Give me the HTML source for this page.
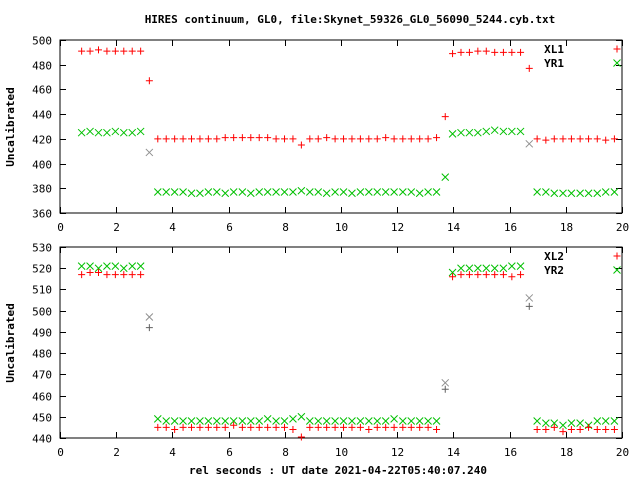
<!DOCTYPE html>
<html><head><meta charset="utf-8"><style>
body{margin:0;background:#fff}
svg{display:block;font-family:"DejaVu Sans Mono","Liberation Mono",monospace;font-size:11px}
</style></head><body>
<svg id="c" width="640" height="480" viewBox="0 0 640 480" xmlns="http://www.w3.org/2000/svg">
<rect width="640" height="480" fill="#fff"/>
<text x="350" y="23" text-anchor="middle" font-weight="bold">HIRES continuum, GL0, file:Skynet_59326_GL0_56090_5244.cyb.txt</text>
<text transform="translate(14,127) rotate(-90)" text-anchor="middle" font-weight="bold">Uncalibrated</text>
<text transform="translate(14,343) rotate(-90)" text-anchor="middle" font-weight="bold">Uncalibrated</text>
<text x="338" y="474" text-anchor="middle" font-weight="bold">rel seconds : UT date 2021-04-22T05:40:07.240</text>
<g id="g"></g>
</svg>
<script>
const times=[0.77,1.07,1.37,1.67,1.97,2.27,2.57,2.87,3.18,
3.48,3.78,4.08,4.38,4.68,4.98,5.28,5.58,5.88,6.18,6.49,6.79,7.09,7.39,7.69,7.99,8.29,8.59,8.89,9.19,9.49,9.79,10.09,10.39,10.69,10.99,11.29,11.59,11.89,12.20,12.50,12.80,13.10,13.40,
13.71,13.97,14.27,14.57,14.87,15.17,15.47,15.78,16.08,16.39,16.70,
16.98,17.29,17.59,17.90,18.20,18.51,18.81,19.12,19.42,19.73];
const xl1=[491,491,492,491,491,491,491,491,467,
420,420,420,420,420,420,420,420,421,421,421,421,421,421,420,420,420,415,420,420,421,420,420,420,420,420,420,421,420,420,420,420,420,421,
438,489,490,490,491,491,490,490,490,490,477,
420,419,420,420,420,420,420,420,419,420];
const yr1=[425,426,425,425,426,425,425,426,409,
377,377,377,377,376,376,377,377,376,377,377,376,377,377,377,377,377,378,377,377,376,377,377,376,377,377,377,377,377,377,377,376,377,377,
389,424,425,425,425,426,427,426,426,426,416,
377,377,376,376,376,376,376,376,377,377];
const xl2=[517,518,518,517,517,517,517,517,492,
445,445,444,445,445,445,445,445,445,446,445,445,445,445,445,445,444,440.5,445,445,445,445,445,445,445,444,445,445,445,445,445,445,445,444,
463,516,517,517,517,517,517,517,516,517,502,
444,444,445,443,444,444,445,444,444,444];
const yr2=[521,521,520,521,521,520,521,521,497,
449,448,448,448,448,448,448,448,448,448,448,448,448,449,448,448,449,450,448,448,448,448,448,448,448,448,448,448,449,448,448,448,448,448,
466,518,520,520,520,520,520,520,521,521,506,
448,447,447,446,447,447,446,448,448,448];
const xTicks=[0,2,4,6,8,10,12,14,16,18,20];
const topTicks=[360,380,400,420,440,460,480,500];
const botTicks=[440,450,460,470,480,490,500,510,520,530];
const transitionIdx=[8,43,53];

const NS="http://www.w3.org/2000/svg";
const g=document.getElementById('g');
function mk(t,a){const e=document.createElementNS(NS,t);for(const k in a)e.setAttribute(k,a[k]);g.appendChild(e);return e;}
const X0=60,X1=622;
const sx=v=>X0+(v-0)/(20-0)*(X1-X0);
function panel(id,top,bot,ymin,ymax,yt,s1,s2,n1,n2,gray1,gray2){
  const sy=v=>bot-(v-ymin)/(ymax-ymin)*(bot-top);
  const f=mk('rect',{x:X0,y:top,width:X1-X0,height:bot-top,fill:'none',stroke:'#000','stroke-width':1});
  
  
  yt.forEach(v=>{const y=Math.round(sy(v))+0.5;
    mk('line',{x1:X0,y1:y,x2:X0+6,y2:y,stroke:'#000'});
    mk('line',{x1:X1,y1:y,x2:X1-6,y2:y,stroke:'#000'});
    const t=mk('text',{x:X0-8,y:y+4,'text-anchor':'end'});t.textContent=v;
    
    });
  xTicks.forEach(v=>{const x=Math.round(sx(v))+0.5;
    mk('line',{x1:x,y1:bot,x2:x,y2:bot-6,stroke:'#000'});
    mk('line',{x1:x,y1:top,x2:x,y2:top+6,stroke:'#000'});
    const t=mk('text',{x:x,y:bot+18,'text-anchor':'middle'});t.textContent=v;
    
    });
  function plus(x,y,c,name){const p=mk('path',{d:`M${x-3.5} ${y}h7M${x} ${y-3.5}v7`,stroke:c,'stroke-width':1,fill:'none'});
    
    }
  function cross(x,y,c,name){const p=mk('path',{d:`M${x-3.5} ${y-3.5}l7 7M${x-3.5} ${y+3.5}l7 -7`,stroke:c,'stroke-width':1,fill:'none'});
    
    }
  times.forEach((t,i)=>{const tr=transitionIdx.includes(i);
    cross(sx(t),sy(s2[i]),tr&&gray2.includes(i)?'#909090':'#00c000',n2.toLowerCase()+'-point');
    plus(sx(t),sy(s1[i]),tr&&gray1.includes(i)?'#606060':'#ff0000',n1.toLowerCase()+'-point');});
  const l1=mk('text',{x:564,y:top+13,'text-anchor':'end','font-weight':'bold'});l1.textContent=n1;
  
  
  const l2=mk('text',{x:564,y:top+27,'text-anchor':'end','font-weight':'bold'});l2.textContent=n2;
  
  
  plus(617,top+9,'#ff0000','legend-marker-'+n1.toLowerCase());
  cross(617,top+23,'#00c000','legend-marker-'+n2.toLowerCase());
}
panel('top',40,213,360,500,topTicks,xl1,yr1,'XL1','YR1',[],[8,53]);
panel('bottom',247,438,440,530,botTicks,xl2,yr2,'XL2','YR2',[8,43,53],[8,43,53]);
</script>
</body></html>
